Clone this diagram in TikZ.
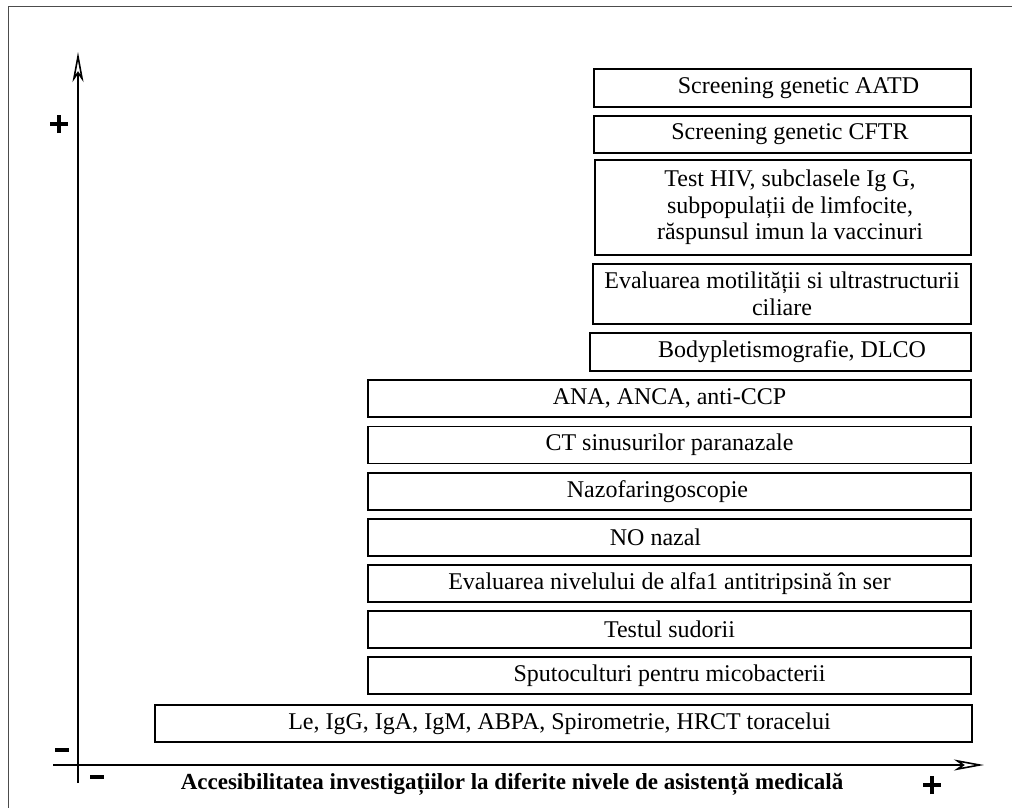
\documentclass[tikz,border=0pt]{standalone}
\usepackage{fontspec}
\setmainfont{Liberation Serif}
\usetikzlibrary{arrows.meta}
\tikzset{
  box/.style={draw, line width=1.8pt, minimum width=#1, minimum height=37pt, inner sep=0pt, font=\fontsize{24}{26.5}\selectfont, align=center},
  box/.default=603pt,
  axis/.style={line width=1.8pt, -{Stealth[open, length=30pt, width=11pt, inset=8pt, line width=1.6pt]}},
  sign/.style={inner sep=0pt},
  frameline/.style={draw=black!70, line width=1pt}
}
\newcommand{\plussign}{\rule{18pt}{3.6pt}\hspace*{-10.8pt}\rule[-7.2pt]{3.6pt}{18pt}\hspace*{7.2pt}}
\newcommand{\minussign}{\rule{14pt}{3.6pt}}
\begin{document}
\begin{tikzpicture}[x=1pt, y=-1pt]
\useasboundingbox (0,0) rectangle (1012,808);
\draw[frameline] (8,808) -- (8,7) -- (1012,7);

% boxes
\node[box=377pt, minimum height=38pt] (b1) at (782.5,88) {\hspace*{32pt}Screening genetic AATD};
\node[box=377pt] (b2) at (782.5,134.5) {\hspace*{15pt}Screening genetic CFTR};
\node[box=376pt, minimum height=95pt] (b3) at (783,207.5) {\hspace*{14pt}Test HIV, subclasele Ig G,\\\hspace*{14pt}subpopulații de limfocite,\\\hspace*{14pt}răspunsul imun la vaccinuri};
\node[box=378pt, minimum height=60pt] (b4) at (782,294) {Evaluarea motilității si ultrastructurii\\ciliare};
\node[box=381pt, minimum height=38pt] (b5) at (780.5,352) {\hspace*{23pt}Bodypletismografie, DLCO};
\node[box] (b6) at (669.5,398.5) {ANA, ANCA, anti-CCP};
\node[box] (b7) at (669.5,445) {CT sinusurilor paranazale};
\node[box] (b8) at (669.5,491.5) {Nazofaringoscopie\hspace*{24pt}};
\node[box] (b9) at (669.5,537.5) {NO nazal\hspace*{28pt}};
\node[box] (b10) at (669.5,583.5) {Evaluarea nivelului de alfa1 antitripsină în ser};
\node[box] (b11) at (669.5,629.5) {Testul sudorii};
\node[box] (b12) at (669.5,675.5) {Sputoculturi pentru micobacterii};
\node[box=817pt] (b13) at (563.5,723.5) {Le, IgG, IgA, IgM, ABPA, Spirometrie, HRCT toracelui\hspace*{8pt}};

% axes
\coordinate (ybot) at (78,783);
\coordinate (ytop) at (78,52);
\coordinate (xleft) at (53,765);
\coordinate (xright) at (984,765);
\draw[axis] (ybot) -- (ytop);
\draw[axis] (xleft) -- (xright);

\node[sign] (yplus) at (59,124) {\plussign};
\node[sign] (yminus) at (62,750) {\minussign};
\node[sign] (xminus) at (97,777) {\minussign};
\node[sign] (xplus) at (932,785) {\plussign};
\node[font=\fontsize{23}{26}\selectfont\bfseries, inner sep=0pt] (xlabel) at (512,784) {Accesibilitatea investigațiilor la diferite nivele de asistență medicală};
\end{tikzpicture}
\end{document}
